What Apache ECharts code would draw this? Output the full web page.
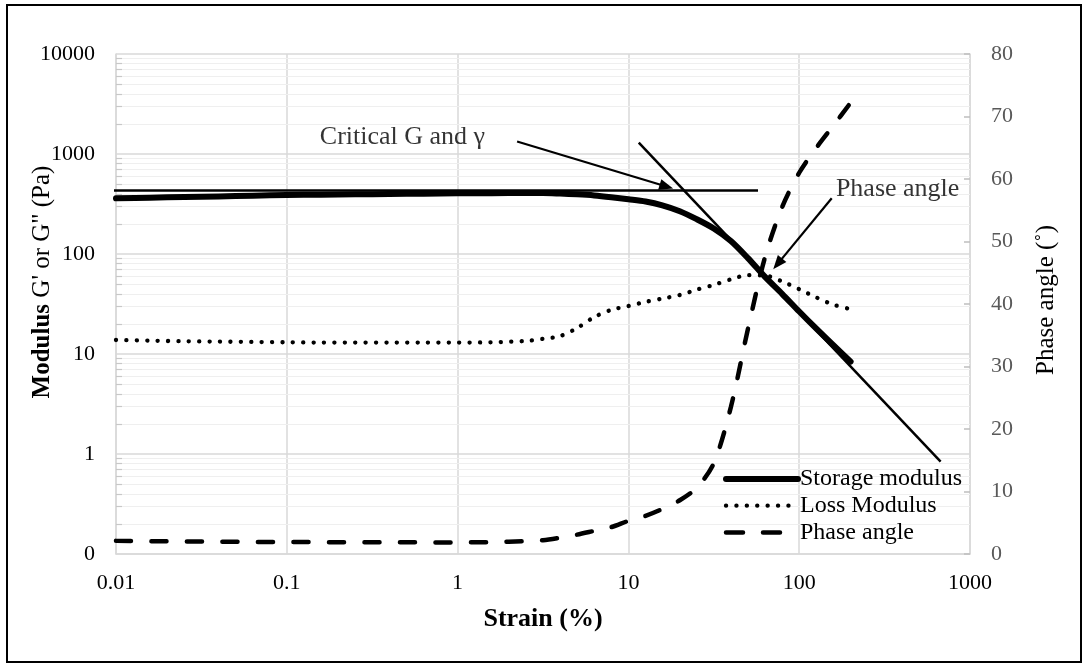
<!DOCTYPE html>
<html>
<head>
<meta charset="utf-8">
<title>Strain sweep</title>
<script src="https://cdn.jsdelivr.net/npm/echarts@6/dist/echarts.min.js"></script>
<style>
  html, body { margin: 0; padding: 0; background: #fff; }
  #chart { width: 1086px; height: 668px; }
</style>
</head>
<body>
<div id="chart"></div>
<script>
// Amplitude sweep: strain (%) against G', G'' (Pa) and phase angle (deg)
const strain = [0.01, 0.0158, 0.0251, 0.0398, 0.0631, 0.1, 0.158, 0.251, 0.398, 0.631,
  1, 1.58, 2.51, 3.16, 3.98, 5.01, 6.31, 7.94, 10, 12.6, 15.8, 20, 25.1,
  31.6, 39.8, 50.1, 63.1, 79.4, 100, 126, 158, 200];
const storageModulus = [360, 366, 371, 376, 383, 389, 392, 395, 398, 401,
  404, 406, 407, 407, 402, 395, 385, 370, 353, 335, 307, 268, 223,
  180, 135, 91, 59, 40, 26.6, 17.9, 12.3, 8.4];
const lossModulus = [13.8, 13.6, 13.4, 13.3, 13.2, 13.1, 13.0, 13.0, 13.0, 13.0,
  13.0, 13.1, 13.5, 14.2, 15.1, 18.2, 23.4, 27.6, 30.2, 33.2, 35.8, 38.9, 44,
  49.1, 55.8, 61.4, 60.9, 53.2, 44.5, 36.8, 31.2, 28.1];
const phaseAngle = [2.1, 2.05, 2.0, 1.97, 1.94, 1.92, 1.9, 1.88, 1.87, 1.86,
  1.86, 1.9, 2.05, 2.2, 2.6, 3.1, 3.7, 4.3, 5.3, 6.1, 7.2, 8.6, 10.6,
  14.5, 23.5, 36, 47.5, 55.5, 61, 65, 68.5, 72.2];

const strainTickLabels = ['0.01', '0.1', '1', '10', '100', '1000'];
const modulusTickLabels = ['0', '1', '10', '100', '1000', '10000'];

// Construction lines for the critical point (strain %, Pa)
const plateauTangent = [[0.00956, 431], [57.4, 431]];
const flowTangent = [[11.5, 1297], [673, 0.838]];
const criticalArrow = [[2.23, 1334], [16.7, 473]];
const phaseArrow = [[155, 361], [74.8, 79.6]];
const notes = [
  { text: 'Critical G and γ', at: [0.156, 1479] },
  { text: 'Phase angle', at: [164, 447] }
];

// Minor grid steps inside every decade of the modulus axis
const minorSteps = [2, 3, 4, 5, 6, 7, 8, 9];
const modulusDecades = [0.1, 1, 10, 100, 1000];
const minorValues = modulusDecades.flatMap(d => minorSteps.map(s => +(d * s).toPrecision(3)));

const FONT = '"Liberation Serif", "Times New Roman", serif';
const pair = ys => strain.map((x, i) => [x, ys[i]]);
const decadeIndex = v => Math.round(Math.log10(v));

const storageStyle = { color: '#000', width: 6, cap: 'round', join: 'round' };
const lossStyle = { color: '#000', width: 4.3, type: [0.1, 10.3], cap: 'round' };
const phaseStyle = { color: '#000', width: 4.5, type: [15, 20.5], cap: 'round' };

const chart = echarts.init(document.getElementById('chart'), null, { renderer: 'canvas' });

chart.setOption({
  animation: false,
  backgroundColor: '#fff',
  textStyle: { fontFamily: FONT },
  grid: { left: 116, right: 116, top: 54, bottom: 114, containLabel: false, outerBoundsMode: 'none' },
  graphic: [{
    type: 'rect', silent: true, z: 100,
    shape: { x: 7, y: 5, width: 1074, height: 657 },
    style: { fill: 'none', stroke: '#000', lineWidth: 2 }
  }],
  legend: {
    orient: 'vertical',
    left: 723, top: 467, padding: 0,
    itemWidth: 72, itemHeight: 14, itemGap: 2.7,
    selectedMode: false,
    textStyle: { fontFamily: FONT, fontSize: 24, lineHeight: 22, color: '#000', padding: [0, 0, 0, -3] },
    data: [
      { name: 'Storage modulus', itemStyle: { opacity: 0 }, lineStyle: storageStyle },
      { name: 'Loss Modulus', itemStyle: { opacity: 0 }, lineStyle: lossStyle },
      { name: 'Phase angle', itemStyle: { opacity: 0 }, lineStyle: Object.assign({}, phaseStyle, { type: [17, 20] }) }
    ]
  },
  xAxis: {
    type: 'log', logBase: 10, min: 0.01, max: 1000,
    name: 'Strain (%)', nameLocation: 'middle', nameGap: 52, nameMoveOverlap: false,
    nameTextStyle: { fontFamily: FONT, fontSize: 26, fontWeight: 'bold', color: '#000' },
    axisLine: { show: true, lineStyle: { color: '#d9d9d9', width: 1.5 } },
    axisTick: { show: false },
    axisLabel: {
      margin: 18, fontFamily: FONT, fontSize: 22, color: '#000',
      formatter: v => strainTickLabels[decadeIndex(v) + 2] ?? ''
    },
    splitLine: { show: true, lineStyle: { color: '#d9d9d9', width: 1.5 } }
  },
  yAxis: [{
    type: 'log', logBase: 10, min: 0.1, max: 10000,
    name: '{b|Modulus} G\' or G" (Pa)', nameLocation: 'middle', nameGap: 61, nameRotate: 90,
    nameMoveOverlap: false,
    nameTextStyle: {
      fontFamily: FONT, fontSize: 25, color: '#000', padding: [0, 0, 0, 44],
      rich: { b: { fontFamily: FONT, fontSize: 25, fontWeight: 'bold', color: '#000' } }
    },
    axisLine: { show: true, lineStyle: { color: '#d9d9d9', width: 1.5 } },
    axisTick: { show: false },
    axisLabel: {
      margin: 21, fontFamily: FONT, fontSize: 22, color: '#000',
      formatter: v => modulusTickLabels[decadeIndex(v) + 1] ?? ''
    },
    splitLine: { show: true, lineStyle: { color: '#d9d9d9', width: 1.5 } }
  }, {
    type: 'value', min: 0, max: 80, interval: 10, position: 'right',
    name: 'Phase angle (˚)', nameLocation: 'middle', nameGap: 64, nameRotate: 90,
    nameMoveOverlap: false,
    nameTextStyle: { fontFamily: FONT, fontSize: 25, color: '#000', padding: [0, 0, 0, 8] },
    axisLine: { show: true, lineStyle: { color: '#d9d9d9', width: 1.5 } },
    axisTick: { show: true, inside: true, length: 6, lineStyle: { color: '#bfbfbf', width: 1.5 } },
    axisLabel: { margin: 21, fontFamily: FONT, fontSize: 22, color: '#595959' },
    splitLine: { show: false }
  }],
  series: [
    {
      // light minor grid and inner minor ticks of the modulus axis
      name: 'minor grid', type: 'line', data: [], z: 1, silent: true,
      markLine: {
        z: 1, silent: true, symbol: ['none', 'none'], label: { show: false }, animation: false,
        data: [
          ...minorValues.map(v => ({ yAxis: v, lineStyle: { color: '#efefef', width: 1.2, type: 'solid' } })),
          ...minorValues.map(v => [
            { coord: [0.01, v], lineStyle: { color: '#c8c8c8', width: 1.2, type: 'solid' } },
            { coord: [0.01084, v] }
          ])
        ]
      }
    },
    {
      name: 'Storage modulus', type: 'line', yAxisIndex: 0, z: 3,
      data: pair(storageModulus), symbol: 'none', smooth: 0.3,
      lineStyle: storageStyle
    },
    {
      name: 'Loss Modulus', type: 'line', yAxisIndex: 0, z: 3,
      data: pair(lossModulus), symbol: 'none', smooth: 0.3,
      lineStyle: lossStyle
    },
    {
      name: 'Phase angle', type: 'line', yAxisIndex: 1, z: 3,
      data: pair(phaseAngle), symbol: 'none', smooth: 0.3,
      lineStyle: phaseStyle
    },
    {
      name: 'plateau tangent', type: 'line', yAxisIndex: 0, z: 4, clip: false, silent: true,
      data: plateauTangent, symbol: 'none',
      lineStyle: { color: '#000', width: 2.5 }
    },
    {
      name: 'flow tangent', type: 'line', yAxisIndex: 0, z: 4, clip: false, silent: true,
      data: flowTangent, symbol: 'none',
      lineStyle: { color: '#000', width: 2.5 },
      markLine: {
        z: 6, silent: true, animation: false,
        symbol: ['none', 'triangle'], symbolSize: [11, 14],
        label: { show: false },
        lineStyle: { color: '#000', width: 2.2, type: 'solid' },
        itemStyle: { color: '#000' },
        data: [criticalArrow, phaseArrow].map(a => [{ coord: a[0] }, { coord: a[1] }])
      }
    },
    {
      name: 'notes', type: 'scatter', yAxisIndex: 0, z: 5, silent: true,
      symbolSize: 0,
      data: notes.map(n => ({ name: n.text, value: n.at })),
      label: {
        show: true, position: [0, 0], align: 'left', verticalAlign: 'middle',
        formatter: p => p.name,
        fontFamily: FONT, fontSize: 26, color: '#000'
      }
    }
  ]
});
</script>
</body>
</html>
